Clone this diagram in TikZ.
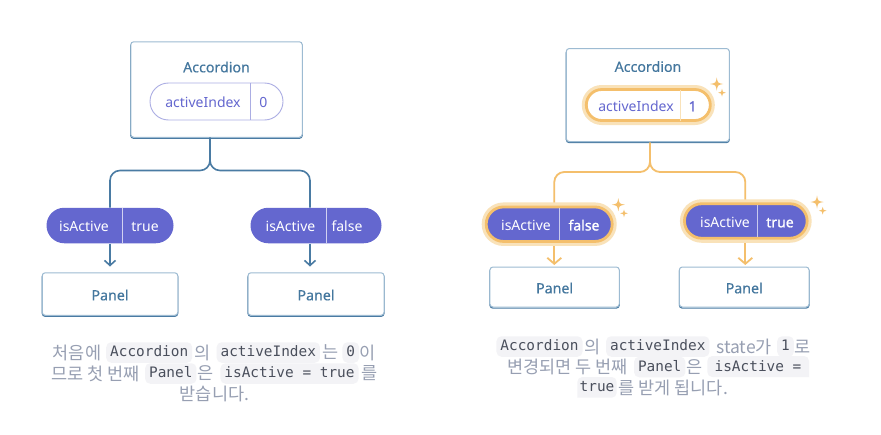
\documentclass[tikz,border=0pt]{standalone}
\usepackage{fontspec}
\setmainfont{Noto Sans}
\setmonofont{DejaVu Sans Mono}
\newfontfamily\krfont{Noto Sans CJK KR}
\newfontfamily\medfont[FakeBold=0.3]{Noto Sans}
\newfontfamily\heavyfont[FakeBold=1.1]{Noto Sans}
\usetikzlibrary{shapes.misc,arrows.meta,positioning}

\definecolor{boxline}{HTML}{9DBBD2}
\definecolor{boxdark}{HTML}{4A7BA3}
\definecolor{blueink}{HTML}{44779E}
\definecolor{violet}{HTML}{6467CF}
\definecolor{violetline}{HTML}{ABADE3}
\definecolor{goldline}{HTML}{F4BF6C}
\definecolor{goldpale}{HTML}{F9E2B9}
\definecolor{captink}{HTML}{979FB2}
\definecolor{codeink}{HTML}{4A4F5C}
\definecolor{codebg}{HTML}{F3F3F6}

\tikzset{
  compbox/.style={draw=boxline,fill=white,line width=1pt,rounded corners=3pt,inner sep=0pt,
    preaction={draw=boxdark,line width=1.2pt,transform canvas={yshift=-1.1pt}}},
  comptext/.style={text=blueink,font=\medfont\fontsize{14.2}{16}\selectfont,inner sep=0pt},
  pillidle/.style={rounded rectangle,draw=violetline,fill=white,line width=0.9pt,inner sep=0pt},
  pillprop/.style={rounded rectangle,fill=violet,inner sep=0pt},
  pillglow/.style={rounded rectangle,draw=goldline,line width=2.8pt,inner sep=0pt,
    preaction={draw=goldpale,line width=9pt}},
  pilltext/.style={font=\fontsize{14}{16}\selectfont,inner sep=0pt,text height=10.5pt,text depth=0pt},
  pillbold/.style={font=\heavyfont\fontsize{14}{16}\selectfont,inner sep=0pt,text height=10.5pt,text depth=0pt},
  wire/.style={draw=boxdark,line width=1.6pt,rounded corners=10pt},
  wiregold/.style={draw=goldline,line width=1.8pt,rounded corners=10pt},
  tipwire/.style={-{Straight Barb[length=5pt,width=11pt,line width=1.6pt]}},
  tipgold/.style={-{Straight Barb[length=6pt,width=14pt,line width=1.8pt]}},
  capt/.style={text=captink,font=\krfont\fontsize{17.5}{18}\selectfont,inner sep=0pt,anchor=center},
  chip/.style={fill=codebg,text=codeink,rounded corners=5pt,inner xsep=4pt,inner ysep=0pt,
    minimum height=20.5pt,text height=10.5pt,text depth=2.5pt,font=\ttfamily\fontsize{14.4}{16}\selectfont},
  chiptext/.style={text=codeink,inner sep=0pt,text height=10.5pt,text depth=2.5pt,font=\ttfamily\fontsize{14.4}{16}\selectfont}
}

\begin{document}
\begin{tikzpicture}[x=1pt,y=-1pt]
  \useasboundingbox[fill=white] (0,0) rectangle (881,434);

  % before the click
  \node[compbox,minimum width=171.5pt,minimum height=95.5pt] (accA) at (216.5,89.5) {};
  \node[comptext] (accAname) at (216.5,67) {Accordion};
  \node[pillidle,minimum width=133pt,minimum height=37pt] (stateA) at (216.5,101.5) {};
  \draw[violetline,line width=0.9pt] (250,83) -- (250,120);
  \node[pilltext,text=violet] (stateAname) at (203,102.5) {activeIndex};
  \node[pilltext,text=violet] (stateAval) at (263.5,102.5) {0};

  \foreach \tag/\cx/\pw/\dv/\nx/\vx/\val in {P/110/127/122.7/84/145/true,Q/316/131/326.3/290.5/347/false}
    {\node[pillprop,minimum width=\pw pt,minimum height=35.5pt] (prop\tag) at (\cx,225.5) {};
     \draw[white!70!violet,line width=0.9pt] (\dv,207.8) -- (\dv,243.2);
     \node[pilltext,text=white] (prop\tag name) at (\nx,226) {isActive};
     \node[pilltext,text=white] (prop\tag val) at (\vx,226) {\val};}

  \node[compbox,minimum width=135.5pt,minimum height=42.5pt] (panelP) at (110,294) {};
  \node[compbox,minimum width=136pt,minimum height=42.5pt] (panelQ) at (316,294) {};
  \node[comptext] (panelPname) at (110,295) {Panel};
  \node[comptext] (panelQname) at (316,295) {Panel};

  \coordinate (tapP) at (110,207.5);
  \coordinate (tapQ) at (310,207.5);
  \draw[wire] (tapP) -- (110,170.5) -- (210,170.5) -- (210,137.5);
  \draw[wire] (tapQ) -- (310,170.5) -- (210,170.5) -- (210,137.5);
  \draw[wire,tipwire,rounded corners=0pt] (110,243.5) -- (110,266.5);
  \draw[wire,tipwire,rounded corners=0pt] (310,243.5) -- (310,266.5);

  % after the click
  \node[compbox,minimum width=163pt,minimum height=93pt] (accB) at (647.8,95) {};
  \node[comptext] (accBname) at (648,66.5) {Accordion};
  \node[pillglow,fill=white,minimum width=124pt,minimum height=31pt] (stateB) at (648.3,105) {};
  \draw[goldpale,line width=0.9pt] (680,89.5) -- (680,120.5);
  \node[pilltext,text=violet] (stateBname) at (636,106) {activeIndex};
  \node[pillbold,text=violet] (stateBval) at (692.7,106) {1};

  \coordinate (tapR) at (554.3,203);
  \coordinate (tapS) at (745.3,200);
  \draw[wiregold] (tapR) -- (554.3,172) -- (650,172) -- (650,142.5);
  \draw[wiregold] (tapS) -- (745.3,172) -- (650,172) -- (650,142.5);
  \draw[wiregold,tipgold,rounded corners=0pt] (554.3,246) -- (554.3,265);
  \draw[wiregold,tipgold,rounded corners=0pt] (745.3,243) -- (745.3,265);

  \foreach \tag/\cx/\cy/\dv/\nx/\vx/\val/\pw in {R/549.2/224.2/559.3/526/584/false/126,S/745.8/221/757.7/725/780/true/122.7}
    {\node[pillglow,fill=violet,minimum width=\pw pt,minimum height=34.5pt] (prop\tag) at (\cx,\cy) {};
     \draw[white!65!violet,line width=0.9pt] (\dv,\cy-16) -- (\dv,\cy+16);
     \node[pilltext,text=white] (prop\tag name) at (\nx,\cy+1) {isActive};
     \node[pillbold,text=white] (prop\tag val) at (\vx,\cy+1) {\val};}

  \node[compbox,minimum width=129.3pt,minimum height=40pt] (panelR) at (554.6,287) {};
  \node[compbox,minimum width=129.7pt,minimum height=40pt] (panelS) at (744.2,287) {};
  \node[comptext] (panelRname) at (554.6,288) {Panel};
  \node[comptext] (panelSname) at (744.2,288) {Panel};

  % sparkles
  \foreach \sx/\sy/\sr in {716.7/84/6.5,722/92.7/3.8,618.3/204.7/6.5,624/213.3/3.8,817/202/6.5,822.7/210.7/3.8}
    \fill[goldline] (\sx,\sy-\sr) .. controls (\sx+.15*\sr,\sy-.15*\sr) .. (\sx+\sr,\sy)
      .. controls (\sx+.15*\sr,\sy+.15*\sr) .. (\sx,\sy+\sr)
      .. controls (\sx-.15*\sr,\sy+.15*\sr) .. (\sx-\sr,\sy)
      .. controls (\sx-.15*\sr,\sy-.15*\sr) .. (\sx,\sy-\sr) -- cycle;

  % captions
  \foreach \tag/\cx/\cy/\ctext in {a/149.2/352.5/Accordion,b/268.3/352.5/activeIndex,c/350.8/352.5/0,
      d/170.8/373.5/Panel,e/289.5/373.5/isActive = true,
      f/539.5/346.5/Accordion,g/657.8/346.5/activeIndex,h/785.5/346.5/1,i/659.7/367/Panel}
    \node[chip] (chip\tag) at (\cx,\cy) {\ctext};
  \foreach \tag/\cx/\cy/\ctext in {a/77/352.5/처음에,b/202.5/352.5/의,c/330.5/352.5/는,d/368/352.5/이,
      e/95.8/373.5/므로 첫 번째,f/205.5/373.5/은,g/370/373.5/를,h/214.5/394/받습니다.,
      i/592.5/346.5/의,j/744.2/346.5/state가,k/802.8/346.5/로,
      l/567.5/367/변경되면 두 번째,m/694.8/367/은,n/673.3/387.5/를 받게 됩니다.}
    \node[capt] (capt\tag) at (\cx,\cy) {\ctext};

  \fill[codebg] (809,356) -- (809,377) -- (712.3,377) [rounded corners=5pt] -- (707.3,377) -- (707.3,356) -- cycle;
  \node[chiptext] (chipj) at (758,367) {isActive =};
  \fill[codebg] (577.3,377) -- (577.3,397.7) -- (611.7,397.7) [rounded corners=5pt] -- (616.7,397.7) -- (616.7,377) -- cycle;
  \node[chiptext] (chipk) at (597,387.5) {true};
\end{tikzpicture}
\end{document}
